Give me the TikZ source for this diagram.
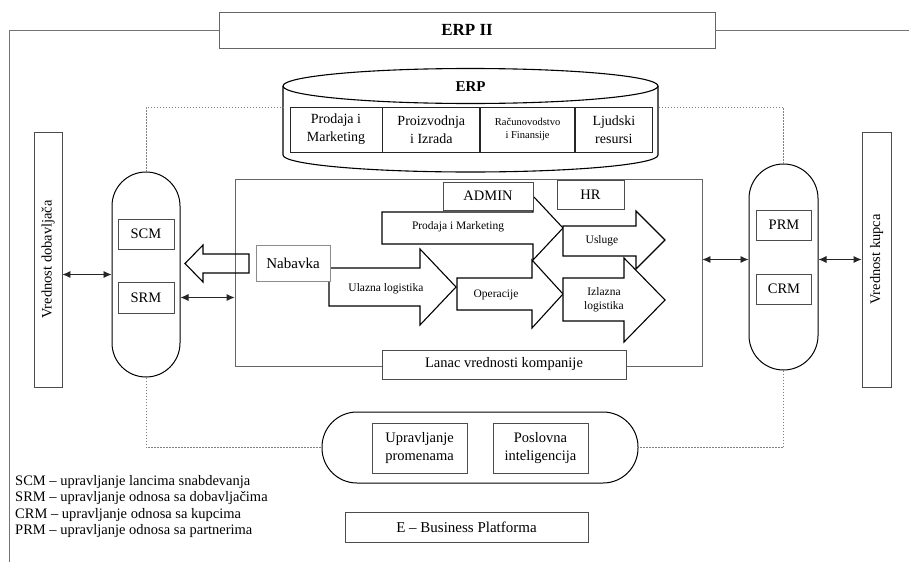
\documentclass[tikz,border=0pt]{standalone}
\usepackage{fontspec}
\setmainfont{Liberation Serif}
\usetikzlibrary{positioning,arrows.meta}

\tikzset{
	box/.style={draw=black!70, line width=0.8pt, fill=white, inner sep=0pt, align=center, font=\fontsize{14.5}{18}\selectfont},
	cell/.style={box, draw=black!85, minimum height=45pt, font=\fontsize{14}{18}\selectfont},
	capsule/.style={draw, line width=1pt, fill=white, inner sep=0pt},
	flow/.style={draw, line width=1.1pt, fill=white, line join=miter},
	flowtext/.style={inner sep=0pt, align=center, font=\fontsize{11.5}{14}\selectfont},
	frame/.style={draw=black!55, line width=0.8pt},
	dots/.style={draw=black!50, line width=0.8pt, dash pattern=on 1.5pt off 1.5pt},
	link/.style={arrows={Latex[length=8pt,width=7pt]-Latex[length=8pt,width=7pt]}, line width=0.8pt, draw=black!85},
}

\begin{document}
\begin{tikzpicture}[x=1pt, y=-1pt]
	\useasboundingbox (0,0) rectangle (909,562);

	% ERP II frame:
	\node[box, draw=black!60, minimum width=496pt, minimum height=36pt, font=\fontsize{17}{20}\selectfont\bfseries] (erpii) at (467,30) {ERP II};
	\coordinate (frameL) at (9,562);
	\coordinate (frameR) at (909,30);
	\draw[frame] (erpii.west) -| (frameL);
	\draw[frame] (erpii.east) -- (frameR);

	% ERP cylinder:
	\draw[line width=1.1pt, fill=white] (283,86) -- (283,155) arc[start angle=180, end angle=360, x radius=187.5pt, y radius=17pt] -- (658,86);
	\draw[line width=1.1pt, fill=white] (470.5,86) ellipse [x radius=187.5pt, y radius=17.5pt];
	\node[font=\fontsize{15}{18}\selectfont\bfseries] (erp) at (470.5,87) {ERP};
	\coordinate (erpL) at (283,107);
	\coordinate (erpR) at (658,107);

	\node[cell, minimum width=92pt] (sales) at (336,129.5) {Prodaja i\\Marketing};
	\node[cell, minimum width=97pt, right=0pt of sales] (prod) {Proizvodnja\\i Izrada};
	\node[cell, minimum width=94pt, right=0pt of prod, font=\fontsize{10.5}{13}\selectfont] (fin) {Računovodstvo\\i Finansije};
	\node[cell, minimum width=77pt, right=0pt of fin] (hres) {Ljudski\\resursi};

	% Company value chain:
	\node[draw=black!60, line width=0.8pt, minimum width=467pt, minimum height=187pt, inner sep=0pt] (chain) at (468.5,272.5) {};
	\draw[flow, fill=none] (249,254) -- (203,254) -- (203,245) -- (185,263.5) -- (203,282) -- (203,273) -- (249,273) -- cycle;

	\draw[flow] (382,212) -- (533,212) -- (533,196) -- (563,228) -- (533,260) -- (533,244) -- (382,244) -- cycle;
	\node[flowtext] (psales) at (458,227) {Prodaja i Marketing};
	\draw[flow] (329,268) -- (420,268) -- (420,249) -- (456,287) -- (420,325) -- (420,306) -- (329,306) -- cycle;
	\node[flowtext] (inlog) at (386,289) {Ulazna logistika};
	\draw[flow] (457,278) -- (532,278) -- (532,260) -- (563,294) -- (532,328) -- (532,310) -- (457,310) -- cycle;
	\node[flowtext] (ops) at (496,295) {Operacije};
	\draw[flow] (563,226) -- (636,226) -- (636,211) -- (665,240) -- (636,269) -- (636,256) -- (563,256) -- cycle;
	\node[flowtext] (serv) at (602,241) {Usluge};
	\draw[flow] (563,278) -- (624,278) -- (624,258) -- (665,300) -- (624,342) -- (624,321) -- (563,321) -- cycle;
	\node[flowtext] (outlog) at (604,300) {Izlazna\\logistika};

	\node[box, minimum width=90pt, minimum height=28pt] (admin) at (488,196) {ADMIN};
	\node[box, minimum width=67pt, minimum height=29pt] (hr) at (590.5,194.5) {HR};
	\node[box, draw=black!45, minimum width=74pt, minimum height=36pt, font=\fontsize{15}{18}\selectfont] (nab) at (293,263) {Nabavka};
	\node[box, minimum width=244pt, minimum height=29pt] (lanac) at (504,364.5) {Lanac vrednosti kompanije};

	% Suppliers side:
	\node[box, minimum width=28pt, minimum height=255pt, label={[rotate=90, font=\fontsize{14.5}{18}\selectfont]center:Vrednost dobavljača}] (dob) at (48,259.5) {};
	\node[capsule, rounded corners=34pt, minimum width=68pt, minimum height=205pt] (sup) at (146,274.5) {};
	\node[box, minimum width=56pt, minimum height=30pt] (scm) at (146,234) {SCM};
	\node[box, minimum width=56pt, minimum height=31pt] (srm) at (146,297.5) {SRM};

	% Customers side:
	\node[box, minimum width=29pt, minimum height=255pt, label={[rotate=90, font=\fontsize{14.5}{18}\selectfont]center:Vrednost kupca}] (kup) at (876.5,259.5) {};
	\node[capsule, rounded corners=34.5pt, minimum width=69pt, minimum height=206pt] (cust) at (783.5,267) {};
	\node[box, minimum width=55pt, minimum height=30pt] (prm) at (784,225) {PRM};
	\node[box, minimum width=55pt, minimum height=30pt] (crm) at (784,289) {CRM};

	% Bottom tools:
	\node[capsule, rounded corners=35pt, minimum width=316pt, minimum height=71pt] (tools) at (480,447.5) {};
	\node[box, minimum width=95pt, minimum height=50pt] (change) at (419.5,448) {Upravljanje\\promenama};
	\node[box, minimum width=95pt, minimum height=50pt] (bintel) at (540.5,448) {Poslovna\\inteligencija};
	\node[box, minimum width=243pt, minimum height=30pt, font=\fontsize{15}{18}\selectfont] (ebiz) at (466.5,527) {E – Business Platforma};

	% Lines:
	\draw[link] (dob.east |- sup.west) -- (sup.west);
	\draw[link] (sup.east |- srm) -- (chain.west |- srm);
	\draw[link] (chain.east |- kup.west) -- (cust.west |- kup.west);
	\draw[link] (cust.east |- kup.west) -- (kup.west);

	\draw[dots] (sup.north) -- (sup.north |- erpL) -- (erpL);
	\draw[dots] (cust.north) -- (cust.north |- erpR) -- (erpR);
	\draw[dots] (sup.south) -- (sup.south |- tools.west) -- (tools.west);
	\draw[dots] (cust.south) -- (cust.south |- tools.east) -- (tools.east);

	% Legend
	\node[anchor=west, align=left, inner sep=0pt, font=\fontsize{14.5}{16.5}\selectfont] (legend) at (15,506.5) {SCM – upravljanje lancima snabdevanja\\SRM – upravljanje odnosa sa dobavljačima\\CRM – upravljanje odnosa sa kupcima\\PRM – upravljanje odnosa sa partnerima};

\end{tikzpicture}
\end{document}
